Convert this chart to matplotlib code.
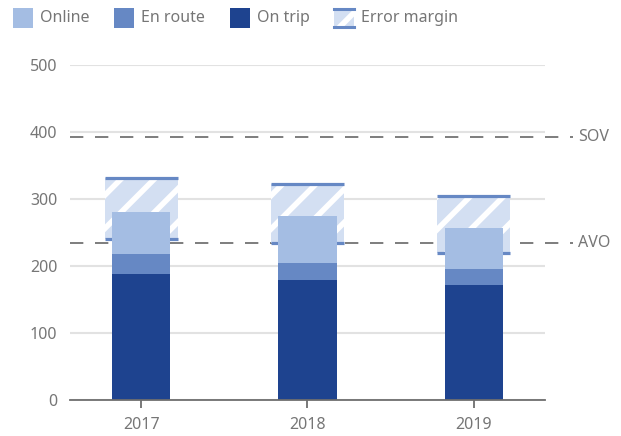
import numpy as np
import matplotlib
matplotlib.use("Agg")
import matplotlib.pyplot as plt
from matplotlib.patches import Rectangle
from matplotlib.lines import Line2D
import matplotlib.transforms as mtransforms

years = ["2017", "2018", "2019"]
on_trip = [188, 179, 172]
en_route = [30, 25, 24]
online = [62, 70, 61]
err_low = [240, 234, 219]
err_high = [331, 323, 304]
ref_names = ["SOV", "AVO"]
ref_values = [393, 235]

c_online = "#a4bde3"
c_route = "#6688c4"
c_trip = "#1e438f"
c_err = "#d3dff2"
c_text = "#767676"

plt.rcParams["font.family"] = ["Noto Sans", "DejaVu Sans"]
plt.rcParams["hatch.linewidth"] = 4.0

fig = plt.figure(figsize=(6.21, 4.36), dpi=100)
W, H = 621, 436
ax = fig.add_axes([70 / W, 1 - 400 / H, 475 / W, 335 / H])

x = np.arange(len(years))
bw = 0.35
ew = 0.44

on_trip = np.array(on_trip)
en_route = np.array(en_route)
online = np.array(online)
err_low = np.array(err_low)
err_high = np.array(err_high)

ax.bar(x, on_trip, bw, color=c_trip, zorder=4)
ax.bar(x, en_route, bw, bottom=on_trip, color=c_route, zorder=4)
ax.bar(x, online, bw, bottom=on_trip + en_route, color=c_online, zorder=4)

ax.bar(x, err_high - err_low, ew, bottom=err_low, color=c_err,
       edgecolor="white", linewidth=0, hatch="/", zorder=2)
ax.hlines(err_high, x - ew / 2, x + ew / 2, color=c_route, lw=2.3, zorder=3)
ax.hlines(err_low, x - ew / 2, x + ew / 2, color=c_route, lw=2.3, zorder=3)

trans = mtransforms.blended_transform_factory(ax.transAxes, ax.transData)
for name, val in zip(ref_names, ref_values):
    ax.plot([0, 1.059], [val, val], transform=trans, color="#676767", lw=1.2,
            dashes=(8, 7), clip_on=False, zorder=1)
    ax.text(1.069, val, name, transform=trans, va="center", ha="left",
            fontsize=11.5, color=c_text)

ax.set_xlim(-0.43, 2.43)
ax.set_ylim(0, 500)
ax.set_yticks(range(0, 501, 100))
ax.set_xticks(x)
ax.set_xticklabels(years)
ax.grid(axis="y", color="#e2e2e2", lw=1.5, zorder=0)
ax.set_axisbelow(True)
for s in ["top", "right", "left"]:
    ax.spines[s].set_visible(False)
ax.spines["bottom"].set_color("#6e6e6e")
ax.spines["bottom"].set_linewidth(1.3)
ax.spines["bottom"].set_zorder(5)
ax.tick_params(axis="y", length=0, pad=9, labelsize=11.5, labelcolor=c_text)
ax.tick_params(axis="x", length=6, width=1.3, color="#6e6e6e", pad=6,
               labelsize=11.5, labelcolor=c_text)

# legend drawn by hand in pixel positions
labels = ["Online", "En route", "On trip", "Error margin"]
colors = [c_online, c_route, c_trip]
xs = [13, 114, 230, 334]
sq = 20
top = 8
for i, (lab, px) in enumerate(zip(labels, xs)):
    x0 = px / W
    y0 = 1 - (top + sq) / H
    if i < 3:
        fig.patches.append(Rectangle((x0, y0), sq / W, sq / H, transform=fig.transFigure,
                                     facecolor=colors[i], edgecolor="none"))
    else:
        fig.patches.append(Rectangle((x0, y0), sq / W, sq / H, transform=fig.transFigure,
                                     facecolor=c_err, edgecolor="white", linewidth=0,
                                     hatch="/"))
        for yy in [top + 1, top + sq - 1]:
            fig.lines.append(Line2D([x0, x0 + sq / W], [1 - yy / H, 1 - yy / H],
                                    transform=fig.transFigure, color=c_route, lw=2.2))
    fig.text((px + sq + 7) / W, 1 - (top + sq / 2) / H, lab, va="center", ha="left",
             fontsize=11.5, color=c_text)

fig.savefig("out.png", dpi=100)
